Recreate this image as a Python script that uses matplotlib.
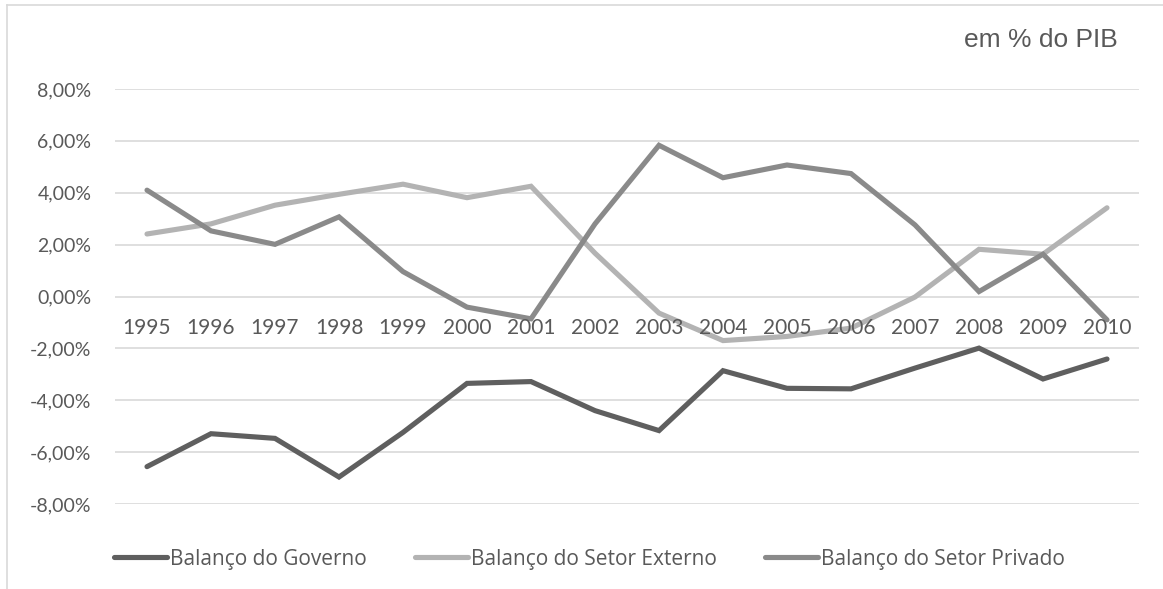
import matplotlib
matplotlib.use("Agg")
import matplotlib.pyplot as plt
from matplotlib.lines import Line2D
from matplotlib.ticker import FuncFormatter
from matplotlib.transforms import ScaledTranslation
import numpy as np

# dados (em % do PIB)
anos = [1995, 1996, 1997, 1998, 1999, 2000, 2001, 2002,
        2003, 2004, 2005, 2006, 2007, 2008, 2009, 2010]
governo = [-6.56, -5.29, -5.47, -6.96, -5.24, -3.35, -3.28, -4.40,
           -5.17, -2.86, -3.54, -3.56, -2.76, -1.99, -3.18, -2.41]
externo = [2.41, 2.80, 3.52, 3.94, 4.33, 3.81, 4.25, 1.67,
           -0.64, -1.70, -1.54, -1.22, -0.02, 1.82, 1.63, 3.42]
privado = [4.10, 2.53, 2.01, 3.07, 0.96, -0.41, -0.86, 2.80,
           5.83, 4.58, 5.07, 4.74, 2.76, 0.19, 1.63, -0.90]

series = [("Balanço do Governo", governo, "#5f5f5f"),
          ("Balanço do Setor Externo", externo, "#b3b3b3"),
          ("Balanço do Setor Privado", privado, "#8a8a8a")]

txt = "#595959"
W, H = 1163, 589
fig = plt.figure(figsize=(W / 100, H / 100), dpi=100)
ax = fig.add_axes([115 / W, 1 - 504 / H, (1139 - 115) / W, (504 - 89) / H])

x = np.arange(len(anos))
for nome, vals, cor in series:
    ax.plot(x, vals, color=cor, lw=3.7, label=nome, solid_capstyle="round",
            solid_joinstyle="miter")

ax.set_xlim(-0.5, len(anos) - 0.5)
ax.set_ylim(-8, 8)
ax.set_yticks(np.arange(-8, 9, 2))
ax.yaxis.set_major_formatter(FuncFormatter(lambda v, p: ("%.2f%%" % v).replace(".", ",")))
ax.grid(axis="y", color="#d9d9d9", lw=1.2)
ax.set_axisbelow(True)
for s in ax.spines.values():
    s.set_visible(False)
ax.tick_params(axis="y", length=0, pad=17, labelsize=14, labelcolor=txt)
for lab in ax.get_yticklabels():
    lab.set_family("Lato")

# rotulos das categorias junto ao eixo zero
ax.set_xticks([])
desloc = ax.transData + ScaledTranslation(0, -22 / 100, fig.dpi_scale_trans)
for xi, ano in zip(x, anos):
    ax.text(xi, 0, str(ano), transform=desloc, ha="center", va="top",
            fontsize=15, color=txt, family="Lato")

fig.text(1118 / W, 1 - 40 / H, "em % do PIB", ha="right", va="center",
         fontsize=19, color=txt, family="Liberation Sans")

leg = fig.legend(loc="center left", bbox_to_anchor=(95 / W, 1 - 559 / H), ncol=3,
                 frameon=False, handlelength=2.55, handletextpad=0.15,
                 columnspacing=2.3, prop={"family": "Open Sans", "size": 15})
for t in leg.get_texts():
    t.set_color(txt)

# moldura do grafico
fig.add_artist(Line2D([7 / W, 7 / W], [0, 1 - 5 / H], color="#d9d9d9", lw=1.2))
fig.add_artist(Line2D([7 / W, 1], [1 - 5 / H, 1 - 5 / H], color="#d9d9d9", lw=1.2))

fig.savefig("out.png", dpi=100)
